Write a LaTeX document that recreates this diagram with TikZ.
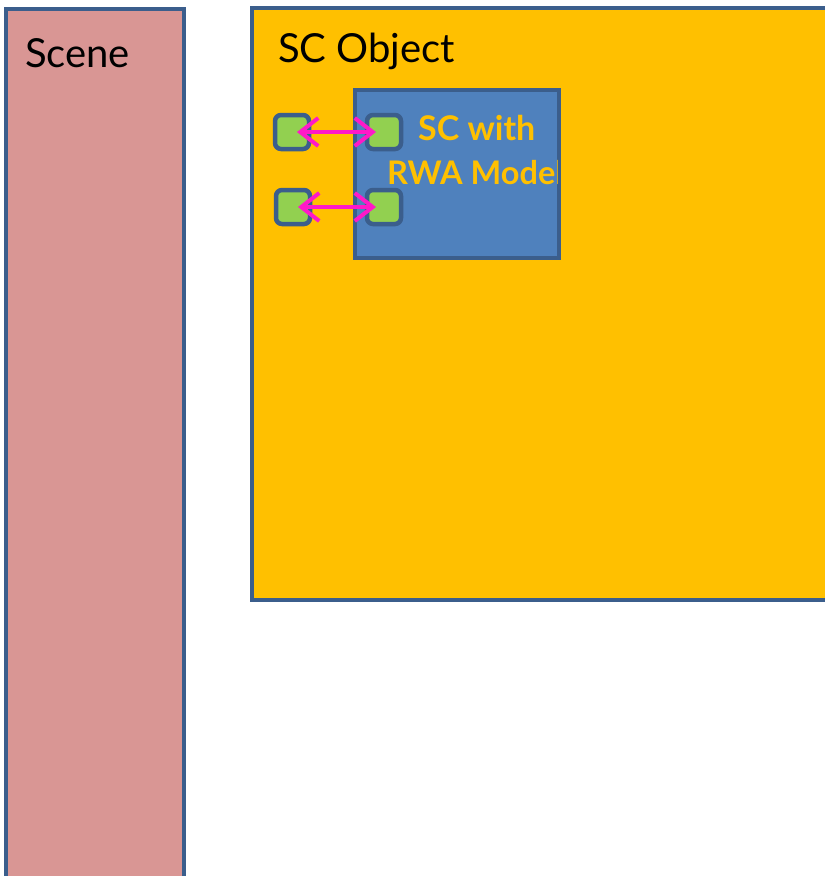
\documentclass[tikz,border=0pt]{standalone}
\usepackage{fontspec}
\setmainfont{Lato}
\usetikzlibrary{arrows.meta}
\definecolor{rimblue}{HTML}{3B5E8C}
\definecolor{scenepink}{HTML}{D99694}
\definecolor{objorange}{HTML}{FFC000}
\definecolor{modelblue}{HTML}{4F81BD}
\definecolor{portgreen}{HTML}{92D050}
\definecolor{linkpink}{HTML}{FF19C8}

\begin{document}
\begin{tikzpicture} [x = 1pt, y = -1pt,
	port/.style = {draw = rimblue, line width = 4.5pt, fill = portgreen, rounded corners = 6pt, minimum size = 34pt, inner sep = 0pt},
	link/.style = {draw = linkpink, line width = 4pt, {Straight Barb[length = 18pt, width = 28pt]}-{Straight Barb[length = 18pt, width = 28pt]}, shorten <= 5pt, shorten >= 8pt}]
	\useasboundingbox (0,0) rectangle (825,876);
	\draw [line width = 4, draw = rimblue, fill = scenepink] (6,9) rectangle (184,900);
	\draw [line width = 4, draw = rimblue, fill = objorange] (252,8) rectangle (840,600);
	\draw [line width = 4, draw = rimblue, fill = modelblue] (355,90) rectangle (559,258);
	\node [anchor = base west, font = \fontsize{40}{40}\selectfont, inner sep = 0pt] (scene) at (25,67) {Scene};
	\node [anchor = base west, font = \fontsize{40}{40}\selectfont, inner sep = 0pt] (object) at (278,62) {SC Object};
	%\draw [thick] (355,90) rectangle (559,258);
	\begin{scope}
	\clip (357,92) rectangle (557,256);
	\node [anchor = base west, font = \fontsize{34}{34}\bfseries\selectfont, text = objorange, inner sep = 0pt] (title) at (418,140) {SC with};
	\node [anchor = base west, font = \fontsize{32.5}{34}\bfseries\selectfont, text = objorange, inner sep = 0pt] (model) at (387,184) {RWA Model};
	\end{scope}
	\node [port] (outa) at (292,132) {};
	\node [port] (outb) at (293,207) {};
	\node [port] (ina) at (384,132) {};
	\node [port] (inb) at (384,207) {};
	\draw [link] (outa.center) -- (ina.center);
	\draw [link] (outb.center) -- (inb.center);
\end{tikzpicture}
\end{document}
